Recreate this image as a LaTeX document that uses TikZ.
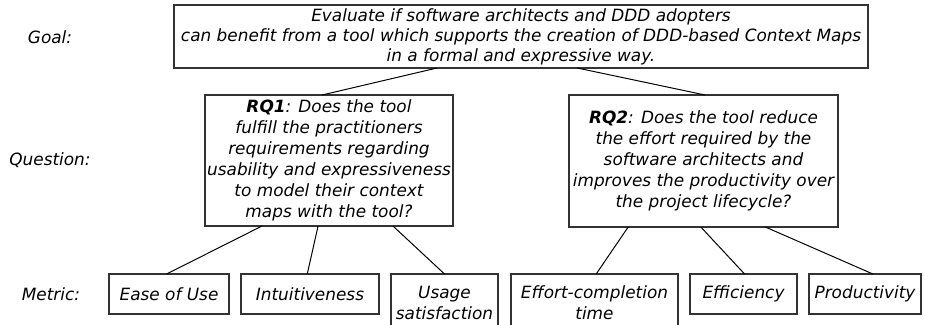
\documentclass[tikz,border=0pt]{standalone}
\usepackage{fontspec}
\setmainfont{DejaVu Sans}
\usetikzlibrary{positioning,calc}

\begin{document}
\begin{tikzpicture}[
    x=1pt, y=-1pt,
    font=\fontsize{16.9}{21}\selectfont\itshape,
    box/.style={draw=black!80, line width=1.2pt, inner sep=0pt,
                outer sep=0pt, align=center},
    metric/.style={box, minimum height=40pt, anchor=north west},
    link/.style={line width=1pt}
]
\path[use as bounding box, clip] (0,0) rectangle (925,324);

% level labels
\node (goallbl) at (50,37) {Goal:};
\node (questionlbl) at (50,160) {Question:};
\node (metriclbl) at (51,294) {Metric:};

% goal
\node[box, minimum width=694pt, minimum height=63pt,
      font=\fontsize{16.9}{20}\selectfont\itshape] (goal) at (521,36.5)
    {Evaluate if software architects and DDD adopters\\
     can benefit from a tool which supports the creation of DDD-based Context Maps\\
     in a formal and expressive way.};

% research questions
\node[box, minimum width=248pt, minimum height=131pt] (rq1) at (329,160.5)
    {\textbf{RQ1}: Does the tool\\ fulfill the practitioners\\
     requirements regarding\\ usability and expressiveness\\
     to model their context\\ maps with the tool?};
\node[box, minimum width=269pt, minimum height=132pt] (rq2) at (703.5,161)
    {\textbf{RQ2}: Does the tool reduce\\ the effort required by the\\
     software architects and\\ improves the productivity over\\
     the project lifecycle?};

% metrics
\node[metric, minimum width=120pt] (ease) at (109,274) {Ease of Use};
\node[metric, minimum width=138pt, right=12pt of ease.north east,
      anchor=north west] (intuit) {Intuitiveness};
\node[metric, minimum width=107pt, minimum height=57pt,
      right=12pt of intuit.north east, anchor=north west] (usage)
    {Usage\\ satisfaction};
\node[metric, minimum width=167pt, minimum height=57pt,
      right=13pt of usage.north east, anchor=north west] (effort)
    {Effort-completion\\ time};
\node[metric, minimum width=107pt, right=12pt of effort.north east,
      anchor=north west] (effic) {Efficiency};
\node[metric, minimum width=112pt, right=12pt of effic.north east,
      anchor=north west] (prod) {Productivity};

% goal -> questions
\draw[link] ($(goal.south west)!0.379!(goal.south east)$)
         -- ($(rq1.north west)!0.472!(rq1.north east)$);
\draw[link] ($(goal.south west)!0.581!(goal.south east)$)
         -- ($(rq2.north west)!0.506!(rq2.north east)$);

% questions -> metrics
\draw[link] ($(rq1.south west)!0.23!(rq1.south east)$)
         -- ($(ease.north west)!0.48!(ease.north east)$);
\draw[link] ($(rq1.south west)!0.456!(rq1.south east)$)
         -- ($(intuit.north west)!0.48!(intuit.north east)$);
\draw[link] ($(rq1.south west)!0.758!(rq1.south east)$)
         -- ($(usage.north west)!0.5!(usage.north east)$);
\draw[link] ($(rq2.south west)!0.22!(rq2.south east)$)
         -- ($(effort.north west)!0.51!(effort.north east)$);
\draw[link] ($(rq2.south west)!0.49!(rq2.south east)$)
         -- ($(effic.north west)!0.51!(effic.north east)$);
\draw[link] ($(rq2.south west)!0.73!(rq2.south east)$)
         -- ($(prod.north west)!0.57!(prod.north east)$);

\end{tikzpicture}
\end{document}
